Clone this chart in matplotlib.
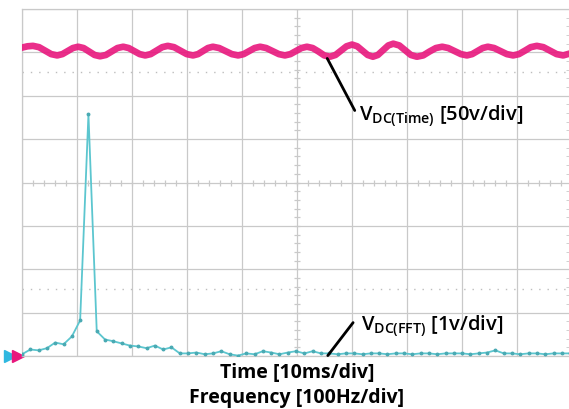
import numpy as np
import matplotlib.pyplot as plt

# scope screen: 10 x 8 divisions, x in div, y in div (0 = centre line)
# V_DC time trace (time in ms, level in div)
t_ms = [0.0, 1.0, 2.0, 3.1, 4.2, 5.3, 6.4, 7.35, 8.3, 9.25, 10.2, 11.2,
        12.2, 13.2, 14.2, 15.25, 16.3, 17.35, 18.4, 19.4, 20.4, 21.4, 22.4,
        23.4, 24.45, 25.5, 26.5, 27.65, 28.8, 29.95, 31.1, 32.0, 32.9, 33.8,
        34.7, 35.85, 37.0, 38.15, 39.3, 40.3, 41.3, 42.3, 43.3, 44.4, 45.55,
        46.7, 47.8, 48.8, 49.8, 50.8, 51.8, 52.85, 53.9, 54.95, 56.0, 57.0,
        58.0, 59.0, 60.0, 60.95, 61.9, 62.85, 63.8, 64.7, 65.65, 66.6, 67.5,
        68.6, 69.65, 70.7, 71.8, 72.95, 74.1, 75.25, 76.4, 77.5, 78.65, 79.8,
        80.9, 81.85, 82.8, 83.75, 84.7, 85.85, 87.0, 88.15, 89.3, 90.35,
        91.45, 92.5, 93.6, 94.8, 96.0, 97.2, 98.4, 99.5]
v_time = [3.11, 3.14, 3.15, 3.12, 3.04, 2.96, 2.93, 2.96, 3.03, 3.10, 3.13,
          3.10, 3.02, 2.94, 2.91, 2.94, 3.02, 3.10, 3.13, 3.10, 3.03, 2.96,
          2.93, 2.96, 3.04, 3.12, 3.15, 3.12, 3.04, 2.96, 2.93, 2.96, 3.03,
          3.10, 3.13, 3.10, 3.03, 2.96, 2.93, 2.96, 3.03, 3.10, 3.13, 3.10,
          3.03, 2.96, 2.93, 2.96, 3.03, 3.10, 3.13, 3.10, 3.02, 2.93, 2.90,
          2.94, 3.04, 3.14, 3.18, 3.14, 3.04, 2.94, 2.90, 2.94, 3.05, 3.16,
          3.20, 3.16, 3.05, 2.94, 2.90, 2.93, 3.02, 3.10, 3.13, 3.10, 3.03,
          2.96, 2.93, 2.96, 3.03, 3.10, 3.13, 3.10, 3.03, 2.96, 2.93, 2.96,
          3.04, 3.12, 3.15, 3.12, 3.04, 2.96, 2.93, 2.97]

# V_DC FFT trace, one point per bin (bin width ~15.1 Hz), level in div
fft_div = [-3.96, -3.85, -3.87, -3.82, -3.69, -3.73, -3.55, -3.18, 1.57,
           -3.43, -3.62, -3.66, -3.71, -3.76, -3.78, -3.82, -3.76, -3.85,
           -3.80, -3.94, -3.94, -3.92, -3.96, -3.94, -3.89, -3.96, -3.99,
           -3.94, -3.96, -3.89, -3.92, -3.96, -3.92, -3.89, -3.94, -3.89,
           -3.94, -3.94, -3.96, -3.94, -3.94, -3.96, -3.94, -3.94, -3.96,
           -3.94, -3.94, -3.96, -3.94, -3.94, -3.96, -3.94, -3.94, -3.94,
           -3.96, -3.94, -3.92, -3.87, -3.94, -3.94, -3.96, -3.94, -3.94,
           -3.96, -3.94, -3.94, -3.94]
bin_hz = 15.1

ms_per_div = 10.0
hz_per_div = 100.0

x_time = np.array(t_ms) / ms_per_div
x_fft = np.arange(len(fft_div)) * bin_hz / hz_per_div

fig = plt.figure(figsize=(5.69, 4.10), dpi=100)
ax = fig.add_axes([22 / 569, 53 / 410, 550 / 569, 347 / 410])

grid_c = '#c9c9c9'
ax.set_xlim(0, 10)
ax.set_ylim(-4, 4)
ax.set_xticks(np.arange(0, 11, 1))
ax.set_yticks(np.arange(-4, 5, 1))
ax.set_xticks(np.arange(0, 10.01, 0.2), minor=True)
ax.set_yticks(np.arange(-4, 4.01, 0.2), minor=True)
ax.grid(True, which='major', color=grid_c, linewidth=0.9)
ax.tick_params(which='both', labelbottom=False, labelleft=False,
               bottom=False, left=False)
ax.tick_params(which='minor', right=True, direction='in', length=4,
               color=grid_c)
for s in ax.spines.values():
    s.set_color(grid_c)
    s.set_linewidth(0.9)

# centre-line graduations
ax.plot(np.arange(0, 10.01, 0.2), np.zeros(51), ls='none', marker='|',
        ms=4, color=grid_c, mew=0.9)
ax.plot(np.full(41, 5.0), np.arange(-4, 4.01, 0.2), ls='none', marker='_',
        ms=4, color=grid_c, mew=0.9)

# cursor lines
ax.axhline(2.55, color='#bdbdbd', ls=(0, (1, 5)), lw=1.0)
ax.axhline(-2.45, color='#bdbdbd', ls=(0, (1, 5)), lw=1.0)

# traces
ax.plot(x_time, v_time, color='#e8177d', lw=4.8, alpha=0.9,
        solid_joinstyle='round', zorder=3)
ax.plot(x_fft, fft_div, color='#5cc6cf', lw=1.3, marker='o', ms=1.8,
        mfc='#4aaab3', mec='#4aaab3', zorder=3)

# channel marker at the left edge
ax.plot([-0.22], [-4], marker='>', ms=8, color='#2fb8e0', clip_on=False)
ax.plot([-0.08], [-4], marker='>', ms=8, color='#e8177d', clip_on=False)

# labels with leader lines
fnt = ['Open Sans', 'DejaVu Sans']
ax.annotate('', xy=(5.55, 2.86), xytext=(6.05, 1.66),
            arrowprops=dict(arrowstyle='-', color='black', lw=2.0,
                            shrinkA=0, shrinkB=0))
ax.annotate('', xy=(5.56, -3.99), xytext=(6.02, -3.23),
            arrowprops=dict(arrowstyle='-', color='black', lw=2.0,
                            shrinkA=0, shrinkB=0))
ax.text(6.12, 1.43, r'V$_{\mathregular{DC(Time)}}$ [50v/div]', fontsize=14.5,
        family=fnt, weight='semibold', va='baseline', ha='left')
ax.text(6.17, -3.41, r'V$_{\mathregular{DC(FFT)}}$ [1v/div]', fontsize=14.5,
        family=fnt, weight='semibold', va='baseline', ha='left')

fig.text(297 / 569, 32 / 410, 'Time [10ms/div]', fontsize=14,
         family=fnt, weight='bold', ha='center', va='baseline')
fig.text(297 / 569, 7 / 410, 'Frequency [100Hz/div]', fontsize=14,
         family=fnt, weight='bold', ha='center', va='baseline')

fig.savefig('out.png', dpi=100)
